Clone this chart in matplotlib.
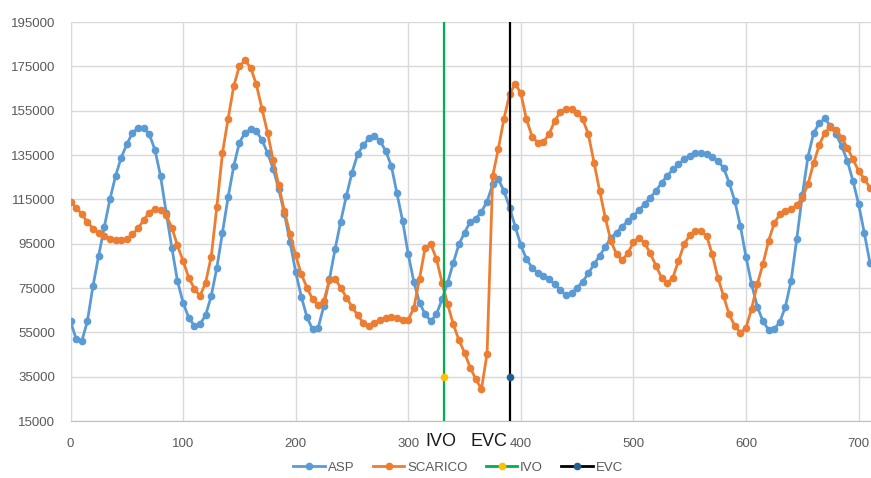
import matplotlib
matplotlib.use("Agg")
import matplotlib.pyplot as plt
from matplotlib.lines import Line2D

plt.rcParams['font.family'] = ['Liberation Sans', 'DejaVu Sans']

angle = list(range(0, 711, 5))

asp = [60000, 52000, 51000, 60000, 76000, 89500, 102500, 115000, 125500, 133800,
       139800, 145000, 147300, 147300, 144300, 137300, 125500, 109000, 93200, 78200,
       68400, 61600, 58000, 58600, 62700, 71400, 84200, 100000, 116000, 130000,
       140600, 145000, 146600, 145800, 141800, 136000, 128800, 119500, 108500, 95700,
       82200, 71100, 61900, 56300, 57100, 66900, 79000, 92500, 105000, 116500,
       127000, 135300, 139400, 142500, 143600, 141300, 136800, 130000, 117700, 105200,
       90200, 77700, 68400, 63100, 60100, 63100, 69900, 77400, 86400, 94700,
       100000, 104800, 106300, 109400, 114000, 121800, 124000, 118800, 111300, 102700,
       94300, 88000, 84200, 81700, 80500, 79000, 76700, 74200, 71700, 72600,
       75200, 77900, 81700, 85700, 89500, 93600, 97700, 100000, 102700, 105200,
       107500, 110200, 112800, 115800, 118800, 122500, 125500, 128500, 130800, 133000,
       134600, 135800, 135800, 135300, 134300, 132300, 129300, 122500, 114300, 103000,
       88900, 76600, 66600, 60100, 56100, 56400, 59700, 66600, 78200, 96900,
       116800, 134200, 144800, 149300, 151500, 148000, 144300, 139000, 132300, 123300,
       112800, 100000, 86500]

scarico = [114000, 111300, 108300, 104800, 101800, 100000, 98500, 97300, 96500, 96500,
           97000, 99200, 101900, 105700, 109000, 110800, 110200, 107800, 102200, 94200,
           87200, 79700, 74700, 71400, 77400, 89200, 111700, 136000, 151400, 166100,
           175100, 177700, 174400, 166900, 155900, 145100, 132600, 121300, 109700, 99200,
           89700, 81200, 75200, 69900, 67200, 69200, 78500, 79000, 75200, 70700,
           66600, 62700, 59400, 57900, 59100, 60600, 61600, 62100, 61600, 60600,
           60600, 66100, 79200, 93200, 94700, 88200, 77400, 67600, 58600, 51500,
           45800, 39100, 33900, 29400, 45400, 125500, 137800, 151400, 162400, 167200,
           162800, 151100, 143300, 140600, 140900, 144300, 150300, 154400, 155900, 155900,
           154100, 151100, 144300, 131500, 118800, 106700, 96200, 90200, 87600, 90600,
           95700, 97700, 95200, 90600, 85000, 79700, 77100, 79700, 87200, 94700,
           98800, 100700, 100700, 98500, 90200, 79700, 71400, 63100, 57900, 54900,
           57100, 65700, 76700, 85700, 96200, 104200, 108200, 109700, 110500, 112300,
           115800, 121800, 131300, 139400, 145100, 147800, 146300, 142800, 138300, 133000,
           127800, 124300, 120300]

ivo_x = 332
evc_x = 390
marker_y = 35000

y_ticks = list(range(15000, 195001, 20000))
x_ticks = list(range(0, 701, 100))

fig = plt.figure(figsize=(8.71, 4.78), dpi=100)
ax = fig.add_axes([70.5/871, 1-421/478, 1-70.5/871, (421-22)/478])

c_asp = '#5B9BD5'
c_sca = '#ED7D31'
ax.plot(angle, asp, color=c_asp, lw=2.0, marker='o', ms=4.5, label='ASP', zorder=3)
ax.plot(angle, scarico, color=c_sca, lw=2.0, marker='o', ms=4.5, label='SCARICO', zorder=4)
ax.axvline(ivo_x, color='#00B050', lw=1.6, zorder=5)
ax.axvline(evc_x, color='black', lw=1.6, zorder=5)
ax.plot([ivo_x], [marker_y], 'o', color='#FFC000', ms=4.5, zorder=6)
ax.plot([evc_x], [marker_y], 'o', color='#255E91', ms=4.5, zorder=6)

ax.set_xlim(0, 711)
ax.set_ylim(15000, 195000)
ax.set_xticks(x_ticks)
ax.set_yticks(y_ticks)
ax.set_xticklabels([str(v) for v in x_ticks])
ax.set_yticklabels([str(v) for v in y_ticks])
ax.tick_params(axis='both', length=0, colors='#595959', labelsize=9.5)
ax.tick_params(axis='y', pad=11)
ax.tick_params(axis='x', pad=12)
ax.grid(True, color='#d9d9d9', lw=1.0, zorder=0)
ax.set_axisbelow(True)
for s in ['top', 'right']:
    ax.spines[s].set_visible(False)
ax.spines['left'].set_color('#d9d9d9')
ax.spines['bottom'].set_color('#bfbfbf')

ax.text(ivo_x - 3, -0.052, 'IVO', transform=ax.get_xaxis_transform(), ha='center', va='center',
        fontsize=13, color='#1a1a1a')
ax.text(evc_x - 2, -0.052, 'EVC', transform=ax.get_xaxis_transform(), ha='right', va='center',
        fontsize=13, color='#1a1a1a')

handles = [Line2D([], [], color=c_asp, lw=2.0, marker='o', ms=4.5),
           Line2D([], [], color=c_sca, lw=2.0, marker='o', ms=4.5),
           Line2D([], [], color='#00B050', lw=2.0, marker='o', ms=4.5, mfc='#FFC000', mec='#FFC000'),
           Line2D([], [], color='black', lw=2.0, marker='o', ms=4.5, mfc='#255E91', mec='#255E91')]
fig.legend(handles, ['ASP', 'SCARICO', 'IVO', 'EVC'], loc='center', bbox_to_anchor=(0.526, 0.022),
           ncol=4, frameon=False, fontsize=9.5, labelcolor='#595959', handlelength=2.4,
           handletextpad=0.2, columnspacing=1.4)

fig.savefig('out.png', dpi=100)
